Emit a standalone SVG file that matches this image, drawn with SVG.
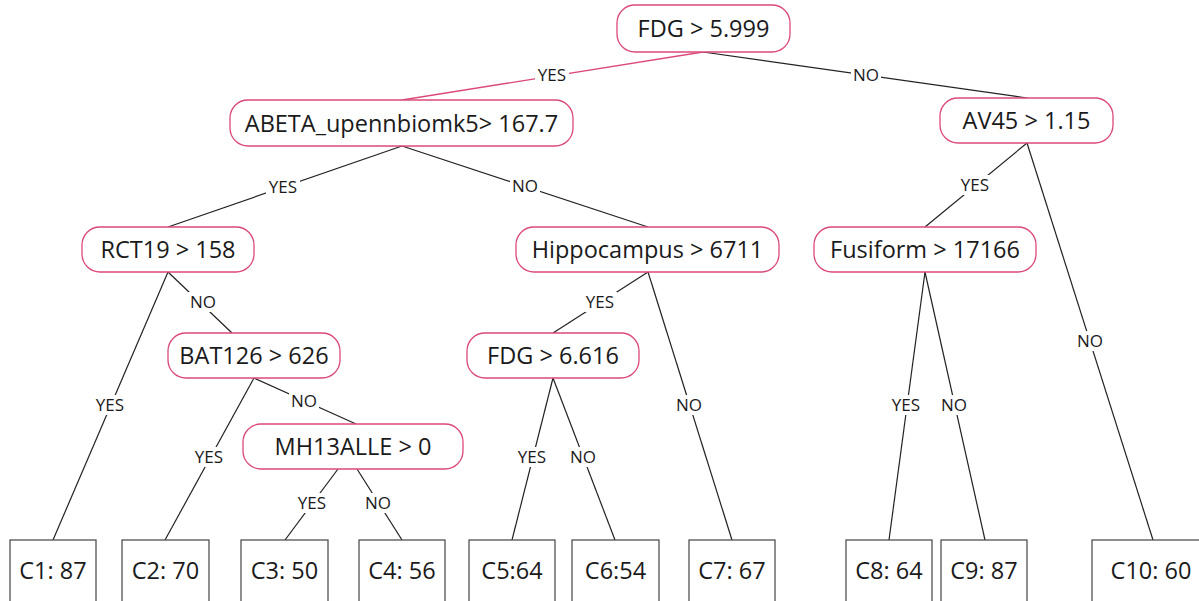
<svg xmlns="http://www.w3.org/2000/svg" width="1199" height="601" viewBox="0 0 1199 601">
<style>
.n{fill:#fff;stroke:#dc4a78;stroke-width:1.3}
.lf{fill:#fff;stroke:#444;stroke-width:1.2}
.t{font-family:"Open Sans","Liberation Sans",sans-serif;font-size:23.5px;fill:#1a1a1a;text-anchor:middle}
.l{font-family:"Open Sans","Liberation Sans",sans-serif;font-size:17px;fill:#1a1a1a;text-anchor:middle}
.c{stroke:#222;stroke-width:1.2;fill:none}
.cp{stroke:#dc4a78;stroke-width:1.3;fill:none}
.bg{fill:#fff}
</style>
<rect width="1199" height="601" fill="#fff"/>
<g id="connectors">
<line class="cp" x1="703" y1="52" x2="402" y2="100"/>
<line class="c" x1="703" y1="52" x2="1027" y2="98"/>
<line class="c" x1="402" y1="146" x2="168" y2="227"/>
<line class="c" x1="402" y1="146" x2="648" y2="227"/>
<line class="c" x1="1027" y1="143" x2="925" y2="227"/>
<line class="c" x1="1027" y1="143" x2="1153" y2="540"/>
<line class="c" x1="168" y1="272" x2="53" y2="540"/>
<line class="c" x1="168" y1="272" x2="232" y2="333"/>
<line class="c" x1="648" y1="272" x2="553" y2="333"/>
<line class="c" x1="648" y1="272" x2="732" y2="540"/>
<line class="c" x1="254" y1="378" x2="165" y2="540"/>
<line class="c" x1="254" y1="378" x2="356" y2="424"/>
<line class="c" x1="553" y1="378" x2="512" y2="540"/>
<line class="c" x1="553" y1="378" x2="615" y2="540"/>
<line class="c" x1="338" y1="469" x2="285" y2="540"/>
<line class="c" x1="357" y1="469" x2="402" y2="540"/>
<line class="c" x1="925" y1="272" x2="889" y2="540"/>
<line class="c" x1="925" y1="272" x2="985" y2="540"/>
<g id="labels">
<rect class="bg" x="535" y="65" width="34" height="20"/><text class="l" x="552" y="81">YES</text>
<rect class="bg" x="851" y="65" width="30" height="20"/><text class="l" x="866" y="81">NO</text>
<rect class="bg" x="266" y="177" width="34" height="20"/><text class="l" x="283" y="193">YES</text>
<rect class="bg" x="510" y="176" width="30" height="20"/><text class="l" x="525" y="192">NO</text>
<rect class="bg" x="958" y="175" width="34" height="20"/><text class="l" x="975" y="191">YES</text>
<rect class="bg" x="1075" y="331" width="30" height="20"/><text class="l" x="1090" y="347">NO</text>
<rect class="bg" x="93" y="395" width="34" height="20"/><text class="l" x="110" y="411">YES</text>
<rect class="bg" x="188" y="292" width="30" height="20"/><text class="l" x="203" y="308">NO</text>
<rect class="bg" x="583" y="292" width="34" height="20"/><text class="l" x="600" y="308">YES</text>
<rect class="bg" x="674" y="395" width="30" height="20"/><text class="l" x="689" y="411">NO</text>
<rect class="bg" x="192" y="447" width="34" height="20"/><text class="l" x="209" y="463">YES</text>
<rect class="bg" x="289" y="391" width="30" height="20"/><text class="l" x="304" y="407">NO</text>
<rect class="bg" x="515" y="447" width="34" height="20"/><text class="l" x="532" y="463">YES</text>
<rect class="bg" x="568" y="447" width="30" height="20"/><text class="l" x="583" y="463">NO</text>
<rect class="bg" x="295" y="493" width="34" height="20"/><text class="l" x="312" y="509">YES</text>
<rect class="bg" x="363" y="493" width="30" height="20"/><text class="l" x="378" y="509">NO</text>
<rect class="bg" x="889" y="395" width="34" height="20"/><text class="l" x="906" y="411">YES</text>
<rect class="bg" x="939" y="395" width="30" height="20"/><text class="l" x="954" y="411">NO</text>
</g>
</g>
<g id="n_fdg1"><rect class="n" x="617" y="5" width="173" height="47" rx="18"/><text class="t" x="703.5" y="37">FDG &gt; 5.999</text></g>
<g id="n_abeta"><rect class="n" x="230" y="100" width="343" height="46" rx="18"/><text class="t" x="401.5" y="131.5">ABETA_upennbiomk5&gt; 167.7</text></g>
<g id="n_av45"><rect class="n" x="940" y="98" width="173" height="45" rx="18"/><text class="t" x="1026.5" y="129">AV45 &gt; 1.15</text></g>
<g id="n_rct19"><rect class="n" x="82" y="227" width="172" height="45" rx="18"/><text class="t" x="168" y="258">RCT19 &gt; 158</text></g>
<g id="n_hippo"><rect class="n" x="516" y="227" width="263" height="45" rx="18"/><text class="t" x="647.5" y="258">Hippocampus &gt; 6711</text></g>
<g id="n_fusi"><rect class="n" x="814" y="227" width="222" height="45" rx="18"/><text class="t" x="925" y="258">Fusiform &gt; 17166</text></g>
<g id="n_bat"><rect class="n" x="168" y="333" width="172" height="45" rx="18"/><text class="t" x="254" y="364">BAT126 &gt; 626</text></g>
<g id="n_fdg2"><rect class="n" x="467" y="333" width="172" height="45" rx="18"/><text class="t" x="553" y="364">FDG &gt; 6.616</text></g>
<g id="n_mh"><rect class="n" x="243" y="424" width="220" height="45" rx="18"/><text class="t" x="353" y="455">MH13ALLE &gt; 0</text></g>
<g id="c1"><rect class="lf" x="10" y="540" width="86" height="80"/><text class="t" x="53" y="579">C1: 87</text></g>
<g id="c2"><rect class="lf" x="122" y="540" width="87" height="80"/><text class="t" x="165.5" y="579">C2: 70</text></g>
<g id="c3"><rect class="lf" x="241" y="540" width="87" height="80"/><text class="t" x="284.5" y="579">C3: 50</text></g>
<g id="c4"><rect class="lf" x="359" y="540" width="86" height="80"/><text class="t" x="402" y="579">C4: 56</text></g>
<g id="c5"><rect class="lf" x="469" y="540" width="86" height="80"/><text class="t" x="512" y="579">C5:64</text></g>
<g id="c6"><rect class="lf" x="572" y="540" width="87" height="80"/><text class="t" x="615.5" y="579">C6:54</text></g>
<g id="c7"><rect class="lf" x="689" y="540" width="86" height="80"/><text class="t" x="732" y="579">C7: 67</text></g>
<g id="c8"><rect class="lf" x="846" y="540" width="86" height="80"/><text class="t" x="889" y="579">C8: 64</text></g>
<g id="c9"><rect class="lf" x="941" y="540" width="86" height="80"/><text class="t" x="984" y="579">C9: 87</text></g>
<g id="c10"><rect class="lf" x="1092" y="540" width="120" height="80"/><text class="t" x="1151" y="579">C10: 60</text></g>
</svg>
